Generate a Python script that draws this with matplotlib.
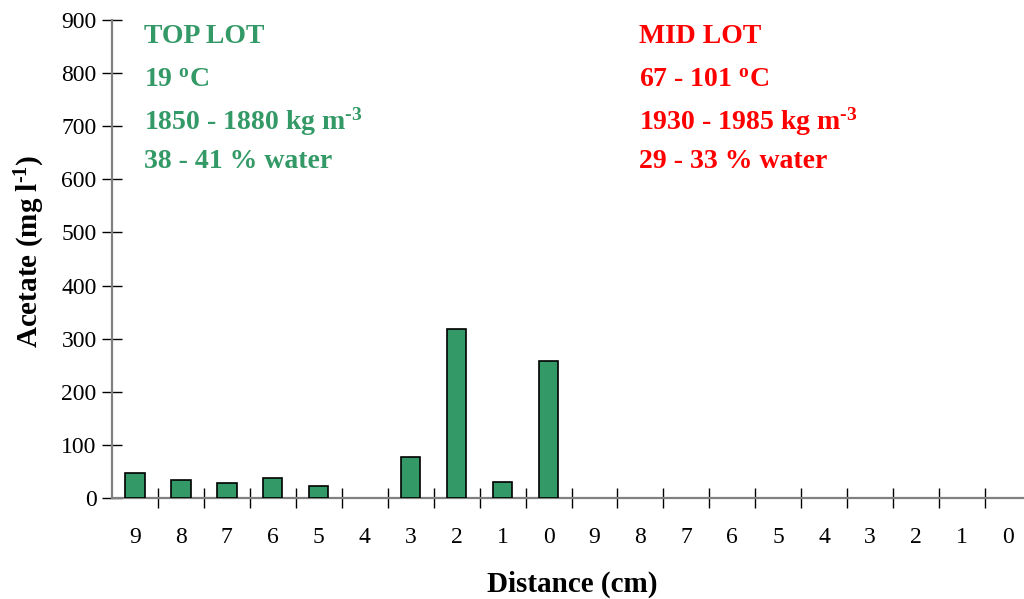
import numpy as np
import matplotlib
matplotlib.use("Agg")
import matplotlib.pyplot as plt

# ---- data ----
distance_labels = ["9", "8", "7", "6", "5", "4", "3", "2", "1", "0",
                   "9", "8", "7", "6", "5", "4", "3", "2", "1", "0"]
acetate = [47, 33, 28, 38, 22, np.nan, 77, 318, 30, 258,
           np.nan, np.nan, np.nan, np.nan, np.nan, np.nan, np.nan, np.nan, np.nan, np.nan]
y_ticks = [0, 100, 200, 300, 400, 500, 600, 700, 800, 900]

top_lines = ["TOP LOT", "19 $^{\\mathrm{o}}$C", "1850 - 1880 kg m$^{\\text{-3}}$", "38 - 41 % water"]
mid_lines = ["MID LOT", "67 - 101 $^{\\mathrm{o}}$C", "1930 - 1985 kg m$^{\\text{-3}}$", "29 - 33 % water"]

GREEN = "#339966"
RED = "#FF0000"

plt.rcParams["font.family"] = ["Liberation Serif", "DejaVu Serif"]
plt.rcParams["mathtext.fontset"] = "custom"
plt.rcParams["mathtext.rm"] = "Liberation Serif:bold"
plt.rcParams["mathtext.bf"] = "Liberation Serif:bold"
plt.rcParams["mathtext.it"] = "Liberation Serif:bold"

W, H = 1024, 599
fig = plt.figure(figsize=(W / 100, H / 100), dpi=100)
ax = fig.add_axes([112 / W, (H - 498) / H, 919 / W, 478 / H])

x = np.arange(len(distance_labels))
ax.bar(x, acetate, width=0.42, color=GREEN, edgecolor="black", linewidth=1.2, zorder=3)

ax.set_xlim(-0.5, len(distance_labels) - 0.5)
ax.set_ylim(0, 900)
ax.set_yticks(y_ticks)
ax.set_yticklabels([str(v) for v in y_ticks], fontsize=17)

# category boundary ticks (major) and labels at centres (minor)
ax.set_xticks(np.arange(0.5, len(distance_labels) - 0.5, 1.0))
ax.set_xticklabels([])
ax.set_xticks(x, minor=True)
ax.set_xticklabels(distance_labels, minor=True, fontsize=17)
ax.tick_params(axis="x", which="major", direction="inout", length=15, width=1.0, color="black")
ax.tick_params(axis="x", which="minor", length=0, pad=21)
ax.tick_params(axis="y", direction="inout", length=14, width=1.0, color="black", pad=4)

for s in ["top", "right"]:
    ax.spines[s].set_visible(False)
for s in ["left", "bottom"]:
    ax.spines[s].set_color("#808080")
    ax.spines[s].set_linewidth(1.6)

fig.text(572 / W, 1 - 584 / H, "Distance (cm)", ha="center", va="center",
         fontsize=21, fontweight="bold")
fig.text(30 / W, 1 - 251 / H, "Acetate (mg l$^{\\text{-1}}$)", ha="center", va="center",
         rotation=90, fontsize=21, fontweight="bold")

baselines = [43, 87, 130, 168]
for line, yb in zip(top_lines, baselines):
    fig.text(144 / W, 1 - yb / H, line, ha="left", va="baseline", color=GREEN,
             fontsize=20, fontweight="bold")
for line, yb in zip(mid_lines, baselines):
    fig.text(639 / W, 1 - yb / H, line, ha="left", va="baseline", color=RED,
             fontsize=20, fontweight="bold")

fig.savefig("out.png", dpi=100)
